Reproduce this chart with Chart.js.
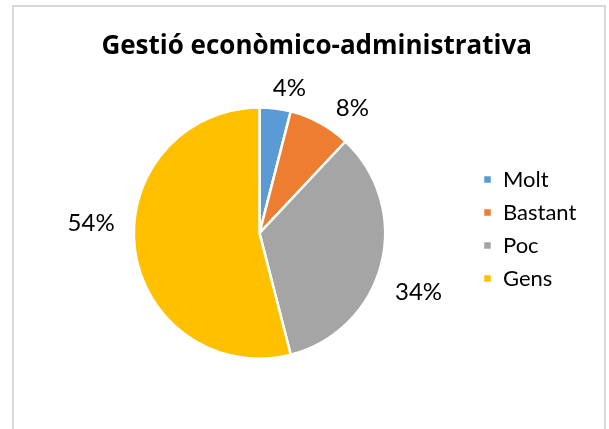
<!DOCTYPE html>
<html><head><meta charset="utf-8">
<script src="https://cdn.jsdelivr.net/npm/chart.js@4.4.1/dist/chart.umd.min.js"></script>
<style>html,body{margin:0;padding:0;background:#fff;} #wrap{position:relative;width:609px;height:429px;}</style>
</head><body><div id="wrap"><canvas id="c" width="609" height="429"></canvas></div>
<script>
const categories = ['Molt', 'Bastant', 'Poc', 'Gens'];
const percentages = [4, 8, 34, 54];
const titleText = 'Gestió econòmico-administrativa';
const colors = ['#5B9BD5', '#ED7D31', '#A5A5A5', '#FFC000'];

const FONT = 'Lato, Carlito, Calibri, "Open Sans", sans-serif';
const TITLE_FONT = '"Open Sans", Lato, sans-serif';
const legendFontSize = 22;
const legendPad = 11;
const legendBox = 9;
const mctx = document.createElement('canvas').getContext('2d');
mctx.font = legendFontSize + 'px ' + FONT;
const maxLabelW = Math.max(...categories.map(c => mctx.measureText(c).width));
const legendWidth = 2 * legendPad + legendBox + legendFontSize / 2 + maxLabelW;
const legendLeft = 471;
const padRight = 609 - legendLeft - legendWidth;

// label placement style: angular shift (deg) and distance beyond the pie edge
const labelAdjust = [
  {shift: 4.5, extra: 22},
  {shift: 7.8, extra: 30},
  {shift: 6, extra: 44},
  {shift: 10.6, extra: 43}
];

const frame = {
  id: 'frame',
  beforeDraw(chart) {
    const ctx = chart.ctx;
    ctx.save();
    ctx.fillStyle = '#fff';
    ctx.fillRect(0, 0, chart.width, chart.height);
    ctx.strokeStyle = '#d9d9d9';
    ctx.lineWidth = 2;
    ctx.strokeRect(13, 6, 592, 440);
    ctx.restore();
  }
};

const pieLabels = {
  id: 'pieLabels',
  afterDatasetsDraw(chart) {
    const ctx = chart.ctx;
    const meta = chart.getDatasetMeta(0);
    ctx.save();
    ctx.font = '24px ' + FONT;
    ctx.fillStyle = '#000';
    ctx.textAlign = 'center';
    ctx.textBaseline = 'middle';
    meta.data.forEach((arc, i) => {
      const p = arc.getProps(['x', 'y', 'startAngle', 'endAngle', 'outerRadius'], true);
      const a = (p.startAngle + p.endAngle) / 2 + labelAdjust[i].shift * Math.PI / 180;
      const d = p.outerRadius + labelAdjust[i].extra;
      ctx.fillText(chart.data.datasets[0].data[i] + '%', p.x + Math.cos(a) * d, p.y + Math.sin(a) * d);
    });
    ctx.restore();
  }
};

new Chart(document.getElementById('c'), {
  type: 'pie',
  data: {
    labels: categories,
    datasets: [{
      data: percentages,
      backgroundColor: colors,
      borderColor: '#ffffff',
      borderWidth: 2.5
    }]
  },
  options: {
    responsive: false,
    animation: false,
    layout: {padding: {top: 22, left: 47, right: padRight, bottom: 69}},
    plugins: {
      title: {
        display: true,
        text: titleText,
        color: '#000',
        font: {family: TITLE_FONT, size: 26, weight: 'bold'},
        padding: {top: 9, bottom: 44}
      },
      legend: {
        position: 'right',
        title: {display: true, text: '', font: {size: 10}, padding: {top: 0, bottom: 64}},
        labels: {
          color: '#000',
          font: {family: FONT, size: legendFontSize},
          boxWidth: legendBox,
          boxHeight: legendBox,
          padding: legendPad
        }
      },
      tooltip: {enabled: false}
    }
  },
  plugins: [frame, pieLabels]
});
</script></body></html>
